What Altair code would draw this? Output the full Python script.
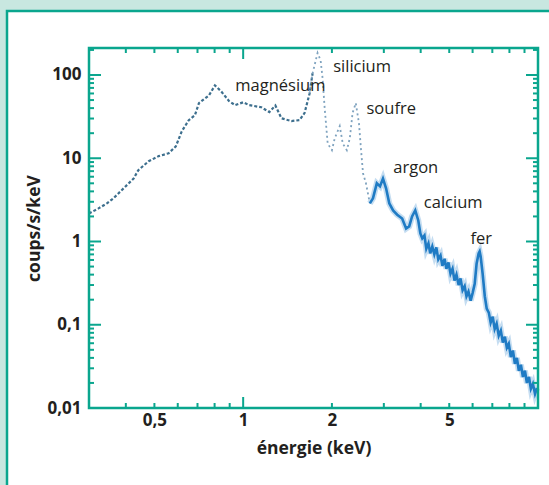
import altair as alt
import pandas as pd

# ---- spectrum (energy keV, counts/s/keV) ----
energy = [0.300, 0.323, 0.345, 0.363, 0.393, 0.425, 0.441, 0.478, 0.517, 0.559,
          0.591, 0.619, 0.654, 0.686, 0.708, 0.766, 0.802, 0.841, 0.896, 0.939,
          1.000, 1.048, 1.152, 1.227, 1.286, 1.348, 1.458, 1.553, 1.615, 1.680,
          1.720, 1.788, 1.831, 1.859, 1.890, 1.935, 2.000, 2.045, 2.126, 2.177,
          2.247, 2.300, 2.350, 2.410, 2.470, 2.508, 2.550, 2.609, 2.690, 2.756,
          2.840, 2.912, 2.980, 3.053, 3.130, 3.225, 3.330, 3.461, 3.570, 3.657,
          3.740, 3.834, 3.926, 3.990, 4.050, 4.120, 4.180, 4.250, 4.310, 4.380,
          4.450, 4.520, 4.590, 4.670, 4.740, 4.820, 4.890, 4.970, 5.050, 5.130,
          5.210, 5.290, 5.380, 5.460, 5.550, 5.640, 5.720, 5.810, 5.910, 6.000,
          6.100, 6.190, 6.290, 6.340, 6.390, 6.490, 6.600, 6.700, 6.810, 6.910,
          7.020, 7.130, 7.240, 7.360, 7.480, 7.600, 7.720, 7.840, 7.960, 8.090,
          8.220, 8.350, 8.480, 8.610, 8.750, 8.890, 9.030, 9.170, 9.320, 9.460,
          9.610, 9.770, 9.920]
counts = [2.17, 2.5, 2.87, 3.3, 4.35, 5.7, 7.2, 9.2, 10.6, 11.5,
          13.9, 21.0, 28.7, 32.9, 46.0, 57.0, 75.0, 64.0, 48.6, 43.4,
          47.0, 43.4, 41.0, 35.8, 43.0, 30.2, 28.0, 28.7, 34.9, 60.0,
          105.0, 184.0, 150.0, 92.0, 40.0, 15.0, 12.5, 17.4, 24.3, 15.0,
          12.5, 17.4, 34.9, 46.0, 26.4, 13.2, 6.6, 5.0, 2.87, 3.3,
          5.0, 4.6, 5.7, 4.35, 2.87, 2.36, 2.1, 1.89, 1.43, 1.52,
          2.0, 2.36, 1.79, 1.25, 1.09, 1.18, 0.82, 0.95, 0.72, 0.87,
          0.70, 0.85, 0.61, 0.68, 0.51, 0.62, 0.47, 0.56, 0.41, 0.47,
          0.34, 0.40, 0.30, 0.36, 0.26, 0.29, 0.22, 0.25, 0.195, 0.24,
          0.31, 0.54, 0.72, 0.76, 0.66, 0.41, 0.22, 0.156, 0.14, 0.106,
          0.125, 0.089, 0.103, 0.074, 0.085, 0.061, 0.072, 0.053, 0.059, 0.041,
          0.049, 0.034, 0.040, 0.028, 0.033, 0.0236, 0.028, 0.020, 0.0236, 0.017,
          0.0195, 0.0148, 0.0174]

label_text = ["magnésium", "silicium", "soufre", "argon", "calcium", "fer"]
label_e = [0.94, 2.02, 2.62, 3.23, 4.10, 5.90]
label_v = [73.0, 125.0, 39.0, 7.6, 2.9, 1.06]

x_label_values = [0.5, 1, 2, 5]
x_minor = [0.4, 0.5, 0.6, 0.7, 0.8, 0.9, 2, 3, 4, 5, 6, 7, 8, 9]
x_major = [1]
y_label_values = [0.01, 0.1, 1, 10, 100]
y_major = [0.01, 0.1, 1, 10, 100]
y_minor = [2, 3, 4, 5, 6, 7, 8, 9,
           0.02, 0.03, 0.04, 0.05, 0.06, 0.07, 0.08, 0.09,
           0.2, 0.3, 0.4, 0.5, 0.6, 0.7, 0.8, 0.9,
           20, 30, 40, 50, 60, 70, 80, 90, 200]

W, H = 449, 360
TEAL = "#0aa68e"
INK = "#231f20"
FONT = "Open Sans"

xs = alt.Scale(type="log", domain=[0.3, 10], nice=False)
ys = alt.Scale(type="log", domain=[0.01, 211], nice=False)

spec = pd.DataFrame({"e": energy, "c": counts})
seg_a = spec[spec.e <= 1.72]
seg_b = spec[(spec.e >= 1.68) & (spec.e <= 2.69)]
seg_c = spec[spec.e >= 2.69]

labels = pd.DataFrame({"t": label_text, "e": label_e, "v": label_v})

# white panel with teal border
panel = alt.Chart(pd.DataFrame({"k": [0]})).mark_rect(
    fill="white", stroke=TEAL, strokeWidth=2.5, clip=False
).encode(x=alt.value(-82), x2=alt.value(W + 30), y=alt.value(-37), y2=alt.value(H + 100))

axes = alt.Chart(pd.DataFrame({"e": [1.0], "c": [1.0]})).mark_point(opacity=0).encode(
    x=alt.X("e:Q", scale=xs, title="énergie (keV)",
            axis=alt.Axis(values=x_label_values, format="~g",
                          labelExpr="replace(datum.label, '.', ',')",
                          domain=False, ticks=False, grid=False, zindex=2,
                          labelFont=FONT, labelFontSize=17, labelFontWeight="bold",
                          labelColor=INK, labelPadding=4,
                          titleFont=FONT, titleFontSize=17.5, titleFontWeight="bold",
                          titleColor=INK, titlePadding=11)),
    y=alt.Y("c:Q", scale=ys, title="coups/s/keV",
            axis=alt.Axis(values=y_label_values, format="~g",
                          labelExpr="replace(datum.label, '.', ',')",
                          domain=False, ticks=False, grid=False, zindex=2,
                          labelFont=FONT, labelFontSize=17, labelFontWeight="bold",
                          labelColor=INK, labelPadding=8,
                          titleFont=FONT, titleFontSize=17.5, titleFontWeight="bold",
                          titleColor=INK, titlePadding=3)),
)

line_a = alt.Chart(seg_a).mark_line(color="#3d6f8e", strokeWidth=2.2, strokeDash=[3, 2]).encode(
    x=alt.X("e:Q", scale=xs), y=alt.Y("c:Q", scale=ys))
line_b = alt.Chart(seg_b).mark_line(color="#7fa3bf", strokeWidth=1.8, strokeDash=[2, 3]).encode(
    x=alt.X("e:Q", scale=xs), y=alt.Y("c:Q", scale=ys))
line_c_halo = alt.Chart(seg_c).mark_line(color="#7fb4e0", strokeWidth=6, opacity=0.45).encode(
    x=alt.X("e:Q", scale=xs), y=alt.Y("c:Q", scale=ys))
line_c = alt.Chart(seg_c).mark_line(color="#1f7bc4", strokeWidth=2.6).encode(
    x=alt.X("e:Q", scale=xs), y=alt.Y("c:Q", scale=ys))

texts = alt.Chart(labels).mark_text(
    align="left", baseline="middle", font=FONT, fontSize=16.5, color=INK
).encode(x=alt.X("e:Q", scale=xs), y=alt.Y("v:Q", scale=ys), text="t:N")


def xticks(vals, length):
    d = pd.DataFrame({"e": vals})
    b = alt.Chart(d).mark_rule(color=TEAL, strokeWidth=2).encode(
        x=alt.X("e:Q", scale=xs), y=alt.value(H), y2=alt.value(H - length))
    t = alt.Chart(d).mark_rule(color=TEAL, strokeWidth=2).encode(
        x=alt.X("e:Q", scale=xs), y=alt.value(0), y2=alt.value(length))
    return [b, t]


def yticks(vals, length):
    d = pd.DataFrame({"c": vals})
    l = alt.Chart(d).mark_rule(color=TEAL, strokeWidth=2).encode(
        y=alt.Y("c:Q", scale=ys), x=alt.value(0), x2=alt.value(length))
    r = alt.Chart(d).mark_rule(color=TEAL, strokeWidth=2).encode(
        y=alt.Y("c:Q", scale=ys), x=alt.value(W), x2=alt.value(W - length))
    return [l, r]


frame = alt.Chart(pd.DataFrame({"k": [0]})).mark_rect(
    fill=None, stroke=TEAL, strokeWidth=2.5
).encode(x=alt.value(0), x2=alt.value(W), y=alt.value(0), y2=alt.value(H))

layers = [panel, axes, line_a, line_b, line_c_halo, line_c, texts]
layers += xticks(x_minor, 5) + xticks(x_major, 11)
layers += yticks(y_minor, 5) + yticks(y_major, 12)
layers += [frame]

chart = alt.layer(*layers).properties(
    width=W, height=H,
    autosize=alt.AutoSizeParams(type="none"),
    padding={"left": 89, "top": 48, "right": 11, "bottom": 77},
    background="#c8e7e0",
).configure_view(stroke=None)

chart.save("out.html", embed_options={"renderer": "svg", "actions": False})
